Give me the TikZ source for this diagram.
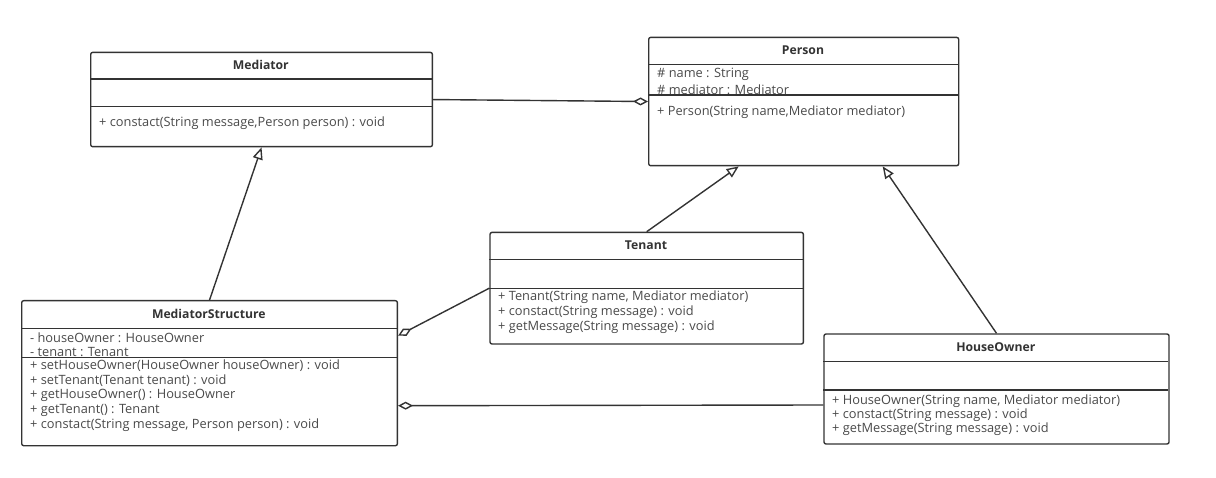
\documentclass[tikz,border=0pt]{standalone}
\usepackage{fontspec}
\setmainfont{Open Sans}
\usetikzlibrary{arrows.meta,positioning}
\definecolor{umlInk}{HTML}{333333}
\definecolor{umlText}{HTML}{4A4A4A}
\definecolor{umlLine}{HTML}{333333}
\tikzset{
  uml diagram/.style={font=\fontsize{12.8}{14}\selectfont, text=umlText,
    line join=round},
  uml class/.style={draw=umlLine, fill=white, line width=1.4pt,
    rounded corners=2pt, inner sep=0pt, anchor=north west},
  uml title/.style={font=\fontsize{12.2}{14}\selectfont\bfseries, text=umlInk,
    inner sep=0pt},
  uml text/.style={anchor=west, inner sep=0pt},
  uml divider/.style={draw=umlLine, line width=1.4pt},
  uml inherit/.style={-{Triangle[open,length=12pt,width=10pt]},
    draw=umlLine, line width=1.4pt},
  uml aggregate/.style={{Diamond[open,length=15pt,width=8pt]}-,
    draw=umlLine, line width=1.4pt}
}
\begin{document}
\begin{tikzpicture}[uml diagram,x=1pt,y=-1pt]
\useasboundingbox (0,0) rectangle (1216,478);
% Mediator
\node[uml class,minimum width=341.7pt,minimum height=94.3pt] (mediator) at (90,51.7) {};
\node[uml title] (mediator title) at (260.8,65.3) {Mediator};
\node[uml text] (mediator m1) at (99,123.5) {+ constact(String message,Person person) : void};
\draw[uml divider] (90,79) -- (431.7,79);
\draw[uml divider] (90,106.7) -- (431.7,106.7);
% Person
\node[uml class,minimum width=310pt,minimum height=128.3pt] (person) at (648,36.7) {};
\node[uml title] (person title) at (803,50.5) {Person};
\node[uml text] (person a1) at (657,74.3) {\# name : String};
\node[uml text] (person a2) at (657,89.5) {\# mediator : Mediator};
\node[uml text] (person m1) at (657,112) {+ Person(String name,Mediator mediator)};
\draw[uml divider] (648,64.3) -- (958,64.3);
\draw[uml divider] (648,95) -- (958,95);
% MediatorStructure
\node[uml class,minimum width=375.7pt,minimum height=145pt] (structure) at (21,300) {};
\node[uml title] (structure title) at (208.8,314.2) {MediatorStructure};
\node[uml text] (structure a1) at (30,337.3) {- houseOwner : HouseOwner};
\node[uml text] (structure a2) at (30,352) {- tenant : Tenant};
\foreach \t [count=\i] in {{+ setHouseOwner(HouseOwner houseOwner) : void},
    {+ setTenant(Tenant tenant) : void},{+ getHouseOwner() : HouseOwner},
    {+ getTenant() : Tenant},{+ constact(String message, Person person) : void}}
  \node[uml text] (structure m\i) at (30,351.2+14.8*\i) {\t};
\draw[uml divider] (21,328.3) -- (396.7,328.3);
\draw[uml divider] (21,357.3) -- (396.7,357.3);
% Tenant
\node[uml class,minimum width=313.4pt,minimum height=111.6pt] (tenant) at (489.3,231.7) {};
\node[uml title] (tenant title) at (646,245.5) {Tenant};
\node[uml text] (tenant m1) at (498,296.7) {+ Tenant(String name, Mediator mediator)};
\node[uml text] (tenant m2) at (498,311.7) {+ constact(String message) : void};
\node[uml text] (tenant m3) at (498,326.7) {+ getMessage(String message) : void};
\draw[uml divider] (489.3,259.3) -- (802.7,259.3);
\draw[uml divider] (489.3,288.3) -- (802.7,288.3);
% HouseOwner
\node[uml class,minimum width=345pt,minimum height=110pt] (houseowner) at (823.3,333.3) {};
\node[uml title] (houseowner title) at (995.8,347.5) {HouseOwner};
\node[uml text] (houseowner m1) at (832,401) {+ HouseOwner(String name, Mediator mediator)};
\node[uml text] (houseowner m2) at (832,415) {+ constact(String message) : void};
\node[uml text] (houseowner m3) at (832,429) {+ getMessage(String message) : void};
\draw[uml divider] (823.3,361.7) -- (1168.3,361.7);
\draw[uml divider] (823.3,390) -- (1168.3,390);
% relations
\draw[uml aggregate] (person.west) -- (mediator.east);
\draw[uml inherit] (structure.north) -- (mediator.south);
\draw[uml inherit] (tenant.north) -- ([xshift=-65pt]person.south);
\draw[uml inherit] (houseowner.north) -- ([xshift=79pt]person.south);
\draw[uml aggregate] ([yshift=37.5pt]structure.east) -- (tenant.west);
\draw[uml aggregate] ([yshift=-32.5pt]structure.east) -- ([yshift=-16pt]houseowner.west);
\end{tikzpicture}
\end{document}
